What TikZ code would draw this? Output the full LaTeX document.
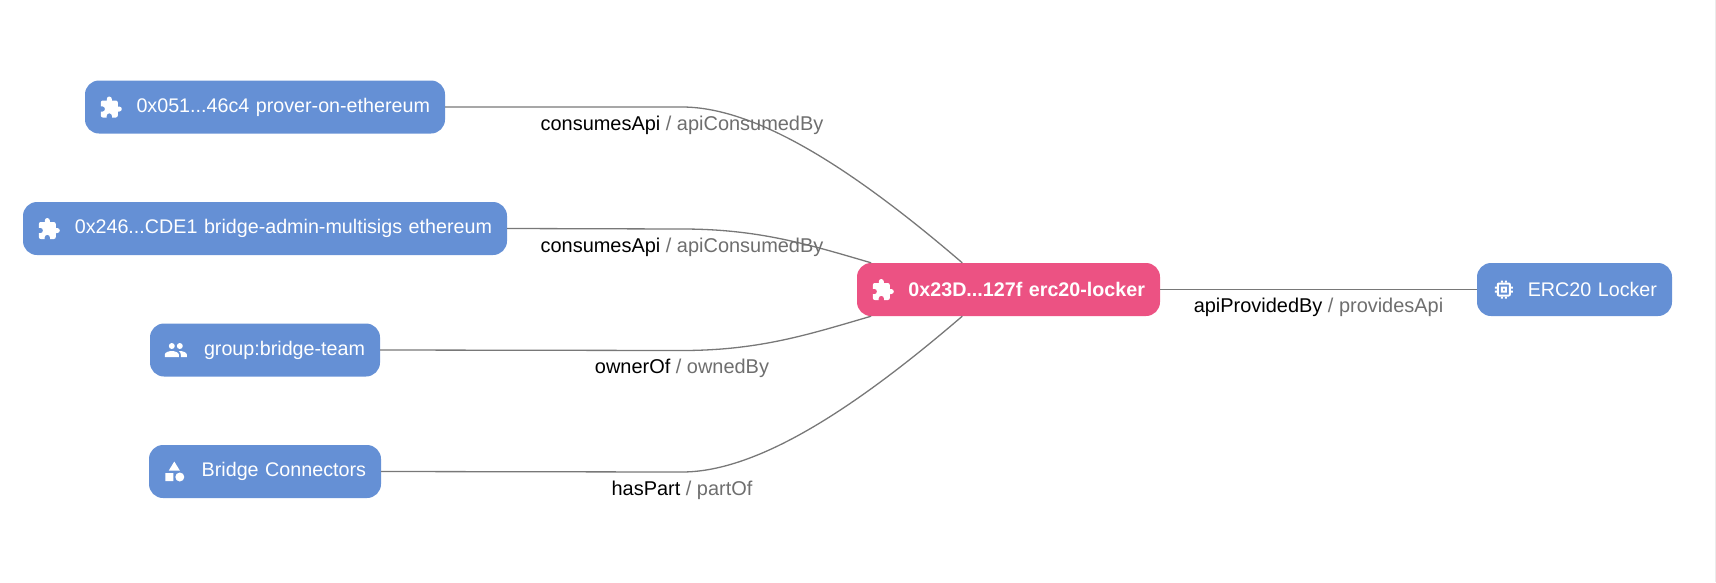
\documentclass[tikz,border=0pt]{standalone}
\usepackage{fontspec}
\setmainfont{Liberation Sans}
\usetikzlibrary{positioning}
\definecolor{entityblue}{HTML}{6590D5}
\definecolor{entitypink}{HTML}{EC5283}
\definecolor{linkgrey}{HTML}{787878}
\definecolor{relgrey}{HTML}{6E6E6E}
\tikzset{
  pics/puzzleicon/.style={code={
    \fill[white,shift={(-12.5,-11.5)}] (20.5,11) -- (19,11) -- (19,7) .. controls (19,5.9) and (18.1,5) .. (17,5) -- (13,5) -- (13,3.5) .. controls (13,2.12) and (11.88,1) .. (10.5,1) .. controls (9.12,1) and (8,2.12) .. (8,3.5) -- (8,5) -- (4,5) .. controls (2.9,5) and (2.01,5.9) .. (2.01,7) -- (2.01,10.8) -- (3.5,10.8) .. controls (4.99,10.8) and (6.2,12.01) .. (6.2,13.5) .. controls (6.2,14.99) and (4.99,16.2) .. (3.5,16.2) -- (2,16.2) -- (2,20) .. controls (2,21.1) and (2.9,22) .. (4,22) -- (7.8,22) -- (7.8,20.5) .. controls (7.8,19.01) and (9.01,17.8) .. (10.5,17.8) .. controls (11.99,17.8) and (13.2,19.01) .. (13.2,20.5) -- (13.2,22) -- (17,22) .. controls (18.1,22) and (19,21.1) .. (19,20) -- (19,16) -- (20.5,16) .. controls (21.88,16) and (23,14.88) .. (23,13.5) .. controls (23,12.12) and (21.88,11) .. (20.5,11) -- cycle;
  }},
  pics/peopleicon/.style={code={
    \fill[white,shift={(-12,-12)}] (16,8) circle (3) (8,8) circle (3)
      (1,19) -- (1,16.5) .. controls (1,14.17) and (5.67,13) .. (8,13) .. controls (10.33,13) and (15,14.17) .. (15,16.5) -- (15,19) -- cycle
      (16,13) .. controls (15.71,13) and (15.38,13.02) .. (15.03,13.05) .. controls (16.19,13.89) and (17,15.02) .. (17,16.5) -- (17,19) -- (23,19) -- (23,16.5) .. controls (23,14.17) and (18.33,13) .. (16,13) -- cycle;
  }},
  pics/shapesicon/.style={code={
    \fill[white,shift={(-12.5,-12)}] (12,2) -- (6.5,11) -- (17.5,11) -- cycle
      (17.5,17.5) circle (4.5) (3,13.5) rectangle (11,21.5);
  }},
  pics/chipicon/.style={code={
    \begin{scope}[shift={(-12,-12)}]
    \fill[white,even odd rule] (7,5) -- (17,5) .. controls (18.1,5) and (19,5.9) .. (19,7) -- (19,17) .. controls (19,18.1) and (18.1,19) .. (17,19) -- (7,19) .. controls (5.9,19) and (5,18.1) .. (5,17) -- (5,7) .. controls (5,5.9) and (5.9,5) .. (7,5) -- cycle
      (7,7) rectangle (17,17) (9,9) rectangle (15,15) (11,11) rectangle (13,13);
    \foreach \pin in {9,13} {
      \fill[white] (\pin,3) rectangle ++(2,2) (\pin,19) rectangle ++(2,2)
        (3,\pin) rectangle ++(2,2) (19,\pin) rectangle ++(2,2);
    }
    \end{scope}
  }}
}
\begin{document}
\begin{tikzpicture}
[x=1pt,y=-1pt,node distance=121.5pt,on grid,
  entity/.style={fill=entityblue,text=white,rounded corners=14pt,minimum height=53pt,
    inner xsep=15pt,inner ysep=0pt,text width=#1pt-30pt,align=right,
    font=\fontsize{19.7}{24}\selectfont},
  link/.style={draw=linkgrey,line width=1.3pt},
  rel/.style={font=\fontsize{19.95}{24}\selectfont,text=black,inner sep=0pt,
    text height=14pt,text depth=4pt,yshift=-18pt}]
\useasboundingbox (0,0) rectangle (1716,582);
\newcommand{\relname}[2]{#1 \textcolor{relgrey}{/ #2}}
%% nodes
\node[entity=360] (prover) at (265,107) {0x051...46c4 prover-on-ethereum};
\node[entity=484] (multisigs) [below=of prover] {0x246...CDE1 bridge-admin-multisigs ethereum};
\node[entity=230] (team) [below=of multisigs] {group:bridge-team};
\node[entity=232] (connectors) [below=of team] {Bridge Connectors};
\node[entity=303,fill=entitypink,font=\fontsize{19.7}{24}\selectfont\bfseries] (locker) at (1008.5,289.5) {0x23D...127f erc20-locker};
\node[entity=195] (erc) [right=566pt of locker] {ERC20 Locker};
%% icons
\pic at ([xshift=26.5pt]prover.west) {puzzleicon};
\pic at ([xshift=26.5pt]multisigs.west) {puzzleicon};
\pic at ([xshift=26.5pt]locker.west) {puzzleicon};
\pic at ([xshift=26pt]team.west) {peopleicon};
\pic at ([xshift=26pt]connectors.west) {shapesicon};
\pic at ([xshift=27pt]erc.west) {chipicon};
%% edges
\coordinate (bendA) at (682,107);
\coordinate (bendB) at (682,229);
\coordinate (bendC) at (682,350.5);
\coordinate (bendD) at (682,472);
\draw[link] (prover.east) -- (bendA) node[rel] {\relname{consumesApi}{apiConsumedBy}}
  .. controls (760,107) and (860,175) .. (locker.150);
\draw[link] (multisigs.east) -- (bendB) node[rel] {\relname{consumesApi}{apiConsumedBy}}
  .. controls (760,229) and (810,245) .. (locker.169);
\draw[link] (team.east) -- (bendC) node[rel] {\relname{ownerOf}{ownedBy}}
  .. controls (760,350.5) and (810,334) .. (locker.191);
\draw[link] (connectors.east) -- (bendD) node[rel] {\relname{hasPart}{partOf}}
  .. controls (760,472) and (860,404) .. (locker.210);
\draw[link] (locker.east) -- node[rel,pos=.5] {\relname{apiProvidedBy}{providesApi}} (erc.west);
%% scrollbar edge
\draw[black!8,line width=1pt] (1715.5,0) -- (1715.5,582);
\end{tikzpicture}
\end{document}
